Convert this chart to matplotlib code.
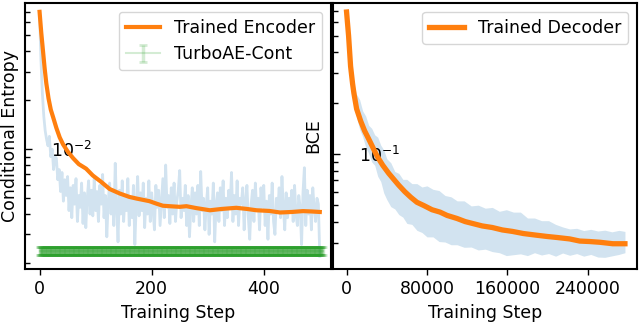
import numpy as np
import matplotlib.pyplot as plt
from matplotlib.ticker import MultipleLocator

plt.rcParams['font.size'] = 12.5

# ---- encoder panel data ----
enc_raw_steps = np.arange(0, 501, 2.5)
enc_raw = np.array([
    68, 35, 22, 16, 13, 11.5, 10.5, 12, 9.0, 10,
    7.5, 9.0, 8.8, 6.5, 7.5, 5.5, 7.2, 4.8, 6.5, 5.2,
    6.8, 4.2, 5.8, 3.8, 6.0, 4.6, 6.6, 3.6, 5.2, 4.4,
    6.2, 3.5, 5.4, 3.3, 5.0, 6.4, 4.0, 5.6, 3.9, 6.6,
    4.2, 5.5, 3.6, 6.0, 4.6, 7.0, 3.8, 5.2, 2.9, 4.8,
    6.2, 4.0, 5.4, 3.4, 8.2, 4.4, 2.7, 5.6, 4.0, 6.4,
    3.6, 5.2, 4.2, 6.6, 3.4, 5.0, 3.8, 6.0, 2.6, 4.6,
    6.8, 3.9, 5.4, 4.2, 6.2, 3.3, 5.0, 4.0, 6.4, 3.6,
    5.4, 4.2, 3.2, 6.0, 4.4, 5.6, 3.4, 4.8, 6.6, 3.8,
    8.0, 4.4, 5.2, 3.5, 5.8, 4.0, 6.2, 3.6, 4.8, 5.6,
    7.4, 3.8, 5.0, 4.2, 6.0, 3.4, 5.2, 2.9, 4.4, 5.8,
    3.6, 5.4, 4.0, 6.0, 3.4, 7.3, 4.2, 5.0, 3.2, 4.6,
    5.8, 3.0, 4.8, 4.0, 6.2, 2.7, 4.6, 5.4, 3.6, 5.8,
    4.2, 6.4, 3.4, 5.0, 3.8, 5.6, 4.4, 7.2, 3.6, 5.2,
    4.0, 6.4, 3.4, 5.0, 4.6, 5.8, 3.2, 4.8, 6.0, 3.8,
    2.8, 4.6, 5.6, 3.6, 6.2, 4.2, 5.0, 3.2, 5.8, 4.4,
    6.0, 3.4, 4.8, 2.8, 5.2, 4.0, 6.2, 3.6, 3.0, 5.0,
    4.2, 5.8, 3.8, 6.8, 4.4, 3.2, 5.4, 3.8, 5.0, 4.2,
    5.6, 3.6, 6.0, 4.0, 3.4, 5.2, 4.4, 2.6, 5.4, 7.7,
    3.4, 5.6, 4.0, 5.2, 3.2, 5.8, 4.4, 3.6, 5.0, 4.6,
    2.2]) * 1e-3

enc_steps = [0, 3, 6, 9, 12, 16, 20, 24, 30, 36, 42, 50, 60, 70, 83, 95, 110,
             125, 143, 160, 173, 196, 208, 220, 232, 250, 262, 280, 304, 325,
             351, 370, 387, 410, 429, 450, 470, 485, 500]
enc_smooth = np.array([
    69.7, 52, 40.5, 31.5, 25.4, 20.5, 17.5, 15.8, 13.5, 11.8, 10.7, 9.7, 8.8,
    8.1, 7.6, 6.9, 6.3, 5.7, 5.35, 5.1, 4.98, 4.8, 4.64, 4.5, 4.47, 4.43,
    4.47, 4.35, 4.22, 4.3, 4.37, 4.3, 4.22, 4.18, 4.09, 4.12, 4.17, 4.15,
    4.12]) * 1e-3

turbo_steps = np.arange(0, 506)
turbo_mean = 2.37e-3
turbo_err = 0.13e-3

# ---- decoder panel data ----
dec_steps = [0, 2000, 4000, 6000, 7300, 10000, 14000, 18000, 22000, 26000,
             30500, 36000, 42000, 47000, 52000, 58000, 64000, 70000, 77000,
             85000, 93000, 100000, 110000, 118000, 126000, 135000, 145000,
             155000, 165000, 176000, 188000, 199000, 210000, 222000, 232000,
             242000, 252000, 265000, 277000]
dec_smooth = [0.69, 0.50, 0.33, 0.26, 0.229, 0.185, 0.157, 0.137, 0.123, 0.110,
              0.097, 0.086, 0.077, 0.071, 0.0655, 0.060, 0.0556, 0.052, 0.0497,
              0.047, 0.0455, 0.0435, 0.0417, 0.040, 0.0389, 0.0377, 0.0369,
              0.0357, 0.0350, 0.0340, 0.0333, 0.0327, 0.0322, 0.0316, 0.0307,
              0.0305, 0.0302, 0.0296, 0.0296]

band_steps = [0, 2000, 4000, 6000, 8000, 10000, 13000, 16000, 19000, 22000,
              25000, 28000, 31000, 34000, 37000, 40000, 44000, 48000, 52000,
              56000, 60000, 65000, 70000, 75000, 80000, 86000, 92000, 98000,
              104000, 110000, 117000, 124000, 131000, 138000, 145000, 152000,
              159000, 166000, 173000, 180000, 187000, 194000, 201000, 208000,
              215000, 222000, 229000, 236000, 243000, 250000, 257000, 264000,
              271000, 277000]
band_upper = [0.70, 0.52, 0.36, 0.29, 0.25, 0.225, 0.21, 0.18, 0.168, 0.148,
              0.142, 0.130, 0.126, 0.113, 0.106, 0.094, 0.089, 0.079, 0.077,
              0.071, 0.071, 0.067, 0.067, 0.064, 0.065, 0.062, 0.061, 0.057,
              0.056, 0.053, 0.053, 0.0495, 0.050, 0.048, 0.0485, 0.046,
              0.047, 0.0455, 0.0455, 0.042, 0.042, 0.0405, 0.0405, 0.0385,
              0.0372, 0.0362, 0.0365, 0.0354, 0.036, 0.0352, 0.0356, 0.0348,
              0.0355, 0.035]
band_lower = [0.68, 0.44, 0.30, 0.235, 0.195, 0.165, 0.140, 0.127, 0.110, 0.101,
              0.090, 0.086, 0.074, 0.069, 0.059, 0.054, 0.049, 0.0475, 0.044,
              0.0425, 0.039, 0.0385, 0.0355, 0.0345, 0.0325, 0.0325, 0.0305,
              0.0303, 0.0292, 0.0292, 0.0282, 0.0283, 0.0272, 0.0275, 0.0266,
              0.0262, 0.0252, 0.0255, 0.0258, 0.0252, 0.0262, 0.0254, 0.0259,
              0.025, 0.0261, 0.0253, 0.0259, 0.025, 0.0256, 0.0247, 0.0246,
              0.0251, 0.0256, 0.0262]

fig = plt.figure(figsize=(6.4, 3.27), dpi=100)
ax1 = fig.add_axes([25/640, 58/327, 306/640, 266/327])
ax2 = fig.add_axes([333/640, 58/327, 304/640, 266/327])

# left: encoder
ax1.plot(enc_raw_steps, enc_raw, color='C0', alpha=0.2, lw=2)
ax1.plot(enc_steps, enc_smooth, color='C1', lw=3, label='Trained Encoder')
ax1.errorbar(turbo_steps, np.full(len(turbo_steps), turbo_mean), yerr=turbo_err,
             color='C2', alpha=0.2, capsize=3, capthick=2, elinewidth=2.5,
             label='TurboAE-Cont')
ax1.set_yscale('log')
ax1.set_ylim(1.84e-3, 7.9e-2)
ax1.set_xlim(-26, 520)
ax1.xaxis.set_major_locator(MultipleLocator(200))
ax1.set_xlabel('Training Step')
ax1.set_ylabel('Conditional Entropy')
ax1.yaxis.set_label_coords(-0.02, 0.5)
ax1.legend(loc='upper right')

# right: decoder
ax2.fill_between(band_steps, band_lower, band_upper, color='C0', alpha=0.2, lw=0)
ax2.plot(dec_steps, dec_smooth, color='C1', lw=3.8, label='Trained Decoder')
ax2.set_yscale('log')
ax2.set_ylim(0.021, 0.78)
ax2.set_xlim(-13500, 289000)
ax2.xaxis.set_major_locator(MultipleLocator(80000))
ax2.set_xlabel('Training Step')
ax2.set_ylabel('BCE')
ax2.yaxis.set_label_coords(-0.036, 0.5)
ax2.legend(loc='upper right')

for ax in (ax1, ax2):
    for s in ax.spines.values():
        s.set_linewidth(1.5)
    ax.tick_params(axis='y', which='major', direction='in', length=5, width=1, pad=-48)
    ax.tick_params(axis='y', which='minor', direction='in', length=3.5, width=1)
    ax.tick_params(axis='x', length=4.5, width=1)

plt.savefig('out.png', dpi=100)
